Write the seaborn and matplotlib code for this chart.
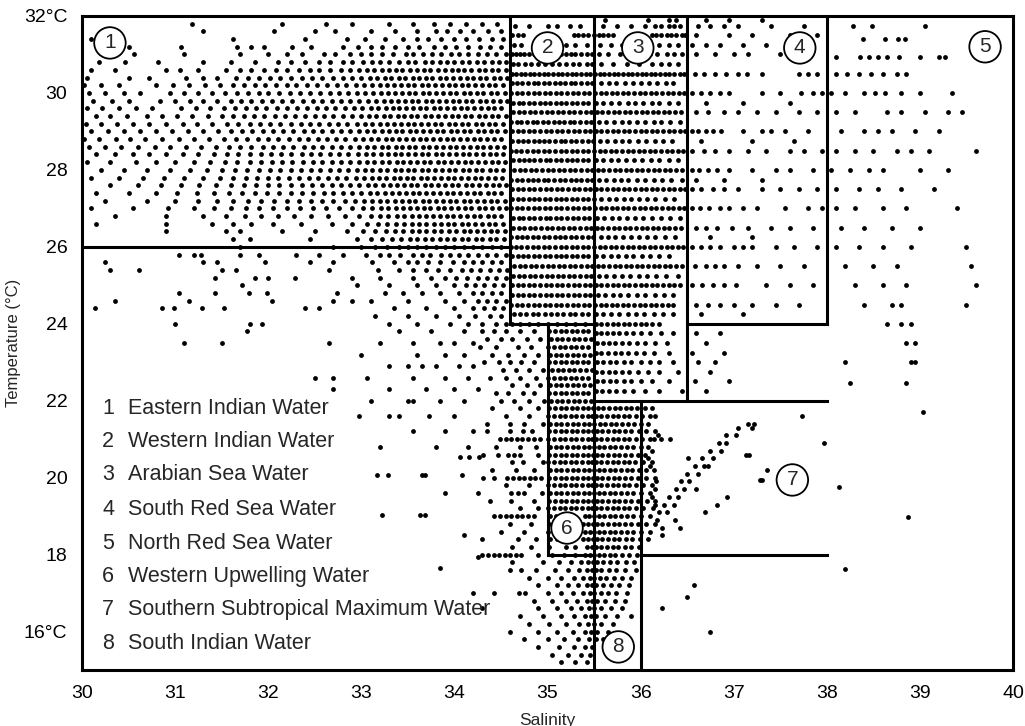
"""
Indian Ocean T-S diagram with water mass boxes
"""

import pandas as pd
import matplotlib
matplotlib.use("Agg")
import matplotlib.pyplot as plt
import seaborn as sns

sns.set_style("white")
plt.rcParams['font.family'] = ['Liberation Sans', 'DejaVu Sans']

# ========== data: rows of (temperature, salinities) ==========
# 1 Eastern Indian Water region (S < 34.6)
east_rows = [
    (31.8, "31.18 32.15 32.62 32.9 33.3 33.55 33.78 33.95 34.12 34.3 34.46"),
    (31.6, "31.3 32.06 32.5 32.72 33.1 33.36 33.6 33.8 33.92 34.06 34.2 34.36 34.5"),
    (31.4, "30.1 31.62 32.4 32.85 33.04 33.25 33.45 33.6 33.72 33.86 34.0 34.12 34.26 34.4 34.52"),
    (31.2, "30.5 31.06 31.66 31.82 31.96 32.26 32.46 32.8 32.96 33.1 33.22 33.36 33.5 33.62 33.78 33.9 34.02 34.15 34.28 34.38 34.5"),
    (31.0, "30.3 30.56 31.1 31.7 32.0 32.2 32.36 32.6 32.72 32.88 33.0 33.1 33.22 33.34 33.48 33.55 33.66 33.76 33.86 33.96 34.05 34.15 34.25 34.35 34.45 34.55"),
    (30.8, "30.18 30.46 30.82 31.3 31.6 31.86 32.1 32.25 32.4 32.55 32.66 32.8 32.9 33.02 33.12 33.2 33.3 33.4 33.5 33.58 33.68 33.76 33.84 33.92 34.0 34.08 34.16 34.24 34.32 34.4 34.48 34.55"),
    (30.6, "30.1 30.35 30.9 31.05 31.25 31.55 31.7 31.82 31.95 32.08 32.2 32.33 32.45 32.55 32.66 32.78 32.88 32.97 33.06 33.14 33.22 33.3 33.37 33.44 33.52 33.6 33.67 33.74 33.82 33.9 33.97 34.04 34.1 34.18 34.26 34.33 34.4 34.47 34.55"),
    (30.4, "30.05 30.5 30.72 31.12 31.3 31.45 31.65 31.78 31.9 32.02 32.13 32.24 32.36 32.47 32.58 32.7 32.8 32.9 33.0 33.09 33.17 33.25 33.32 33.4 33.47 33.55 33.62 33.69 33.76 33.84 33.91 33.98 34.06 34.13 34.2 34.27 34.34 34.42 34.49 34.56"),
    (30.2, "30.02 30.2 30.4 30.8 30.98 31.15 31.32 31.48 31.62 31.74 31.86 31.97 32.08 32.2 32.3 32.42 32.52 32.63 32.74 32.84 32.94 33.03 33.12 33.2 33.28 33.35 33.43 33.5 33.57 33.65 33.72 33.79 33.87 33.94 34.01 34.08 34.15 34.22 34.3 34.37 34.44 34.52"),
    (30.0, "30.08 30.25 30.45 30.62 30.95 31.1 31.25 31.4 31.54 31.67 31.78 31.9 32.0 32.12 32.23 32.34 32.45 32.56 32.66 32.76 32.86 32.95 33.04 33.13 33.21 33.29 33.36 33.44 33.51 33.58 33.66 33.73 33.8 33.88 33.95 34.02 34.1 34.17 34.24 34.31 34.39 34.46 34.54"),
    (29.8, "30.12 30.32 30.5 30.84 31.0 31.16 31.3 31.45 31.6 31.71 31.82 31.93 32.04 32.15 32.26 32.37 32.48 32.58 32.68 32.78 32.88 32.98 33.07 33.16 33.24 33.32 33.39 33.47 33.54 33.61 33.69 33.76 33.83 33.91 33.98 34.05 34.12 34.19 34.27 34.34 34.41 34.49 34.56"),
    (29.6, "30.05 30.22 30.4 30.58 30.75 31.06 31.22 31.38 31.52 31.64 31.76 31.87 31.98 32.09 32.2 32.31 32.42 32.52 32.62 32.72 32.82 32.92 33.01 33.1 33.18 33.26 33.34 33.41 33.48 33.56 33.63 33.7 33.78 33.85 33.92 34.0 34.07 34.14 34.21 34.29 34.36 34.43 34.5"),
    (29.4, "30.15 30.3 30.48 30.7 30.86 31.02 31.18 31.35 31.5 31.62 31.74 31.85 31.96 32.07 32.18 32.29 32.4 32.5 32.6 32.7 32.8 32.9 33.0 33.08 33.16 33.24 33.31 33.39 33.46 33.53 33.6 33.68 33.75 33.82 33.9 33.97 34.04 34.11 34.18 34.26 34.33 34.4 34.47 34.55"),
    (29.2, "30.04 30.2 30.38 30.55 30.72 30.9 31.08 31.24 31.4 31.56 31.68 31.8 31.91 32.02 32.13 32.24 32.35 32.45 32.55 32.65 32.75 32.85 32.95 33.04 33.12 33.2 33.28 33.35 33.43 33.5 33.57 33.64 33.72 33.79 33.86 33.94 34.01 34.08 34.15 34.23 34.3 34.37 34.44 34.52"),
    (29.0, "30.1 30.28 30.45 30.62 30.8 30.97 31.14 31.3 31.46 31.6 31.72 31.83 31.94 32.05 32.16 32.27 32.38 32.48 32.58 32.68 32.78 32.88 32.97 33.06 33.14 33.22 33.3 33.37 33.44 33.52 33.59 33.66 33.74 33.81 33.88 33.96 34.03 34.1 34.17 34.25 34.32 34.39 34.46 34.54"),
    (28.8, "30.02 30.18 30.36 30.52 30.68 30.86 31.04 31.2 31.36 31.52 31.65 31.77 31.89 32.0 32.11 32.22 32.33 32.43 32.53 32.63 32.73 32.83 32.93 33.02 33.1 33.18 33.26 33.33 33.41 33.48 33.55 33.63 33.7 33.77 33.85 33.92 33.99 34.06 34.14 34.21 34.28 34.35 34.43 34.5"),
    (28.6, "30.08 30.25 30.42 30.6 30.78 30.95 31.12 31.28 31.44 31.58 31.7 31.82 31.94 32.05 32.16 32.27 32.38 32.48 32.58 32.68 32.78 32.88 32.98 33.06 33.14 33.22 33.29 33.37 33.44 33.51 33.58 33.66 33.73 33.8 33.88 33.95 34.02 34.09 34.17 34.24 34.31 34.38 34.46 34.53"),
    (28.4, "30.15 30.35 30.55 30.72 30.9 31.08 31.25 31.42 31.56 31.68 31.8 31.92 32.03 32.14 32.25 32.36 32.46 32.56 32.66 32.76 32.86 32.96 33.05 33.13 33.21 33.29 33.36 33.43 33.5 33.58 33.65 33.72 33.8 33.87 33.94 34.02 34.09 34.16 34.23 34.31 34.38 34.45 34.52"),
    (28.2, "30.05 30.3 30.58 30.8 31.0 31.2 31.38 31.54 31.67 31.8 31.92 32.04 32.15 32.26 32.37 32.48 32.58 32.68 32.78 32.88 32.97 33.06 33.14 33.22 33.3 33.38 33.45 33.52 33.6 33.67 33.74 33.82 33.89 33.96 34.04 34.11 34.18 34.25 34.33 34.4 34.47 34.54"),
    (28.0, "30.2 30.45 30.7 30.95 31.16 31.34 31.5 31.64 31.77 31.9 32.02 32.13 32.24 32.35 32.46 32.56 32.66 32.76 32.86 32.95 33.04 33.12 33.2 33.28 33.36 33.43 33.5 33.57 33.65 33.72 33.79 33.87 33.94 34.01 34.09 34.16 34.23 34.3 34.38 34.45 34.52"),
    (27.8, "30.1 30.4 30.65 30.88 31.1 31.3 31.48 31.62 31.76 31.88 32.0 32.11 32.22 32.33 32.44 32.54 32.64 32.74 32.84 32.94 33.03 33.11 33.19 33.27 33.35 33.42 33.49 33.56 33.64 33.71 33.78 33.86 33.93 34.0 34.07 34.15 34.22 34.29 34.36 34.44 34.51"),
    (27.6, "30.3 30.6 30.85 31.06 31.26 31.44 31.6 31.74 31.87 32.0 32.12 32.24 32.36 32.47 32.58 32.68 32.78 32.88 32.98 33.07 33.15 33.23 33.31 33.38 33.46 33.53 33.6 33.68 33.75 33.82 33.9 33.97 34.04 34.12 34.19 34.26 34.34 34.41 34.48 34.55"),
    (27.4, "30.15 30.5 30.8 31.02 31.24 31.42 31.58 31.72 31.86 31.99 32.12 32.24 32.36 32.48 32.6 32.7 32.8 32.9 33.0 33.09 33.17 33.25 33.33 33.4 33.48 33.55 33.62 33.7 33.77 33.84 33.92 33.99 34.06 34.14 34.21 34.28 34.36 34.43 34.5"),
    (27.2, "30.25 30.7 31.0 31.25 31.45 31.62 31.78 31.92 32.06 32.2 32.33 32.46 32.58 32.7 32.82 32.93 33.03 33.12 33.2 33.28 33.36 33.44 33.51 33.58 33.66 33.73 33.8 33.88 33.95 34.02 34.1 34.17 34.24 34.32 34.39 34.46 34.54"),
    (27.0, "30.1 30.55 30.92 31.2 31.42 31.6 31.76 31.9 32.05 32.2 32.34 32.48 32.62 32.76 32.9 33.02 33.12 33.21 33.29 33.37 33.45 33.52 33.6 33.67 33.74 33.82 33.89 33.96 34.04 34.11 34.18 34.26 34.33 34.4 34.48 34.55"),
    (26.8, "30.35 30.9 31.3 31.55 31.75 31.92 32.1 32.28 32.46 32.64 32.82 32.97 33.1 33.2 33.29 33.38 33.46 33.54 33.62 33.69 33.77 33.84 33.92 33.99 34.06 34.14 34.21 34.28 34.36 34.43 34.5"),
    (26.6, "30.15 30.9 31.4 31.62 31.82 32.05 32.35 32.68 32.9 33.06 33.18 33.28 33.37 33.46 33.54 33.62 33.7 33.78 33.86 33.93 34.0 34.08 34.15 34.22 34.3 34.37 34.44 34.52"),
    (26.4, "30.9 31.55 31.7 32.15 32.5 32.85 33.02 33.15 33.26 33.36 33.45 33.54 33.62 33.7 33.78 33.86 33.94 34.02 34.1 34.17 34.24 34.32 34.39 34.46 34.54"),
    (26.2, "31.62 31.8 32.45 32.95 33.1 33.22 33.33 33.43 33.52 33.6 33.68 33.76 33.84 33.92 34.0 34.08 34.15 34.23 34.3 34.38 34.45 34.53"),
    (26.0, "31.7 32.7 33.0 33.15 33.28 33.4 33.5 33.6 33.7 33.8 33.9 34.0 34.1 34.2 34.3 34.4 34.5"),
]

# scatter below 26 degrees, left of the central column
tail_rows = [
    (25.8, "31.04 31.2 31.28 31.7 31.9 32.3 32.55 32.8 33.05 33.2 33.3 33.42 33.55 33.65 33.74 33.86 33.95 34.05 34.15 34.25 34.35 34.45 34.55"),
    (25.6, "30.25 31.3 31.45 31.97 32.45 32.7 33.12 33.35 33.5 33.6 33.72 33.85 33.98 34.1 34.2 34.3 34.4 34.5"),
    (25.4, "30.3 30.61 31.5 31.65 32.65 33.18 33.4 33.55 33.7 33.82 33.95 34.08 34.18 34.28 34.38 34.48 34.56"),
    (25.2, "31.43 31.86 32.0 32.29 32.9 33.2 33.55 33.75 33.9 34.02 34.14 34.25 34.35 34.45 34.55"),
    (25.0, "31.72 32.95 33.3 33.6 33.8 34.0 34.12 34.22 34.32 34.42 34.52"),
    (24.8, "31.04 31.43 31.79 31.99 32.74 33.25 33.45 33.65 33.85 34.05 34.2 34.3 34.4 34.5"),
    (24.6, "30.35 31.15 32.04 32.7 32.9 33.1 33.5 33.9 34.1 34.25 34.35 34.45 34.55"),
    (24.4, "30.14 30.86 30.99 31.29 31.53 32.39 32.55 33.35 33.7 34.0 34.2 34.32 34.42 34.52"),
    (24.2, "33.15 33.5 33.8 34.05 34.22 34.38 34.5"),
    (24.0, "31.0 31.8 31.93 33.3 33.6 33.95 34.15 34.3 34.45 34.55"),
    (23.8, "31.77 33.4 33.75 34.1"),
    (23.5, "31.1 31.5 32.65 33.2 33.55 33.85 34.0 34.2"),
    (23.2, "33.0 33.6 33.9 34.1"),
    (22.9, "33.3 33.5 33.65 33.8 34.05 34.2"),
    (22.6, "32.5 32.7 33.06 33.55 33.9 34.15"),
    (22.3, "32.7 33.3 33.7 34.0 34.25"),
    (22.0, "33.1 33.5 33.55 33.85 34.1"),
    (21.6, "32.98 33.3 33.4 33.73 34.0"),
    (21.2, "33.55 33.9 34.2"),
    (20.8, "33.2 33.8 34.15"),
    (20.54, "34.06 34.16 34.26"),
    (20.07, "33.17 33.29 33.65 33.68 34.08"),
    (19.6, "33.9 34.25"),
    (19.03, "33.22 33.63 33.68"),
    (18.5, "34.1"),
    (17.95, "34.25"),
    (17.65, "33.85"),
    (17.0, "34.2"),
    (16.6, "34.3"),
]

# 2 Western Indian Water + 3 Arabian Sea Water (34.6-36.5)
west_rows = [
    (31.9, "35.62 36.08 36.3 36.38"),
    (31.75, "34.65 34.8 35.0 35.1 35.24 35.35 35.6 35.75 35.9 36.05 36.15 36.22 36.3 36.36 36.42"),
    (31.5, "34.62 34.68 34.74 35.28 35.33 35.38 35.44 35.5 35.55 35.6 35.65 35.7 36.12 36.17 36.22 36.28 36.33 36.38 36.44 36.48"),
    (31.25, "34.64 34.72 34.85 34.95 35.08 35.2 35.3 35.42 35.56 35.68 35.8 35.95 36.08 36.2 36.3 36.4"),
    (31.0, "34.62 34.66 34.7 34.75 34.8 34.85 34.9 34.95 35.0 35.05 35.1 35.15 35.2 35.25 35.3 35.36 35.42 35.48 35.55 35.65 35.78 35.9 36.0 36.1 36.18 36.28 36.36 36.45"),
    (30.75, "34.63 34.68 34.76 34.82 34.9 34.97 35.05 35.12 35.2 35.27 35.34 35.42 35.48 35.58 35.7 35.85 35.98 36.12 36.22 36.3 36.4"),
    (30.5, "34.62 34.66 34.71 34.76 34.81 34.86 34.91 34.96 35.01 35.06 35.11 35.16 35.21 35.26 35.31 35.36 35.41 35.46 35.51 35.56 35.61 35.66 35.71 35.76 35.81 35.86 35.91 35.96 36.01 36.06 36.11 36.16 36.21 36.26 36.31 36.36 36.42 36.47"),
    (30.25, "34.62 34.67 34.73 34.79 34.85 34.9 34.96 35.02 35.08 35.13 35.19 35.25 35.3 35.36 35.42 35.48 35.57 35.66 35.74 35.83 35.92 36.0 36.09 36.18 36.27 36.35"),
    (30.0, "34.61 34.67 34.73 34.79 34.85 34.91 34.97 35.03 35.09 35.15 35.21 35.27 35.33 35.39 35.45 35.51 35.57 35.63 35.69 35.75 35.81 35.87 35.93 35.99 36.05 36.11 36.17 36.23 36.29 36.35 36.41 36.47"),
    (29.75, "34.63 34.69 34.74 34.8 34.86 34.92 34.97 35.03 35.09 35.15 35.2 35.26 35.32 35.38 35.44 35.52 35.6 35.68 35.77 35.86 35.94 36.03 36.12 36.2 36.3 36.4"),
    (29.5, "34.63 34.69 34.75 34.81 34.87 34.93 34.99 35.05 35.11 35.17 35.23 35.29 35.35 35.41 35.47 35.53 35.59 35.65 35.71 35.77 35.83 35.89 35.95 36.01 36.07 36.13 36.19 36.25 36.31 36.37 36.43"),
    (29.25, "34.61 34.67 34.72 34.78 34.84 34.89 34.95 35.01 35.07 35.12 35.18 35.24 35.29 35.35 35.41 35.47 35.55 35.63 35.71 35.8 35.88 35.96 36.05 36.14 36.22 36.32 36.42"),
    (29.0, "34.62 34.68 34.74 34.8 34.86 34.92 34.98 35.04 35.1 35.16 35.22 35.28 35.34 35.4 35.46 35.52 35.58 35.64 35.7 35.76 35.82 35.88 35.94 36.0 36.06 36.12 36.18 36.24 36.3 36.36 36.42 36.48"),
    (28.75, "34.62 34.68 34.74 34.79 34.85 34.91 34.96 35.02 35.08 35.14 35.19 35.25 35.31 35.37 35.43 35.49 35.56 35.64 35.72 35.8 35.88 35.97 36.06 36.15 36.24 36.34"),
    (28.5, "34.61 34.66 34.72 34.78 34.84 34.9 34.96 35.02 35.08 35.14 35.2 35.26 35.32 35.38 35.44 35.5 35.56 35.62 35.68 35.74 35.8 35.86 35.92 35.98 36.04 36.1 36.16 36.22 36.28 36.34 36.4 36.46"),
    (28.25, "34.63 34.69 34.75 34.8 34.86 34.92 34.98 35.03 35.09 35.15 35.21 35.26 35.32 35.38 35.44 35.52 35.6 35.68 35.76 35.84 35.93 36.02 36.11 36.2 36.3 36.4"),
    (28.0, "34.64 34.7 34.76 34.82 34.88 34.94 35.0 35.06 35.12 35.18 35.24 35.3 35.36 35.42 35.48 35.54 35.6 35.66 35.72 35.78 35.84 35.9 35.96 36.02 36.08 36.14 36.2 36.26 36.32 36.38 36.44"),
    (27.75, "34.61 34.67 34.73 34.79 34.84 34.9 34.96 35.01 35.07 35.13 35.19 35.25 35.31 35.36 35.42 35.48 35.55 35.63 35.71 35.79 35.87 35.96 36.05 36.14 36.23 36.33 36.44"),
    (27.5, "34.62 34.68 34.74 34.8 34.86 34.92 34.98 35.04 35.1 35.16 35.22 35.28 35.34 35.4 35.46 35.52 35.58 35.64 35.7 35.76 35.82 35.88 35.94 36.0 36.06 36.12 36.18 36.24 36.3 36.36 36.42 36.48"),
    (27.25, "34.62 34.68 34.74 34.8 34.86 34.91 34.97 35.03 35.09 35.14 35.2 35.26 35.32 35.38 35.44 35.5 35.58 35.66 35.74 35.82 35.9 35.98 36.07 36.16 36.26 36.36"),
    (27.0, "34.61 34.67 34.73 34.79 34.85 34.91 34.97 35.03 35.09 35.15 35.21 35.27 35.33 35.39 35.45 35.51 35.57 35.63 35.69 35.75 35.81 35.87 35.93 35.99 36.05 36.11 36.17 36.23 36.29 36.35 36.41 36.47"),
    (26.75, "34.63 34.69 34.74 34.8 34.86 34.92 34.98 35.03 35.09 35.15 35.21 35.27 35.33 35.39 35.45 35.53 35.61 35.69 35.77 35.85 35.94 36.03 36.12 36.22 36.32 36.42"),
    (26.5, "34.63 34.69 34.75 34.81 34.87 34.93 34.99 35.05 35.11 35.17 35.23 35.29 35.35 35.41 35.47 35.53 35.59 35.65 35.71 35.77 35.83 35.89 35.95 36.01 36.07 36.13 36.19 36.25 36.31 36.37 36.43"),
    (26.25, "34.61 34.67 34.73 34.78 34.84 34.9 34.96 35.02 35.08 35.13 35.19 35.25 35.31 35.37 35.43 35.49 35.57 35.65 35.73 35.81 35.9 35.98 36.07 36.16 36.26 36.37"),
    (26.0, "34.61 34.66 34.72 34.78 34.84 34.9 34.96 35.02 35.08 35.14 35.2 35.26 35.32 35.38 35.44 35.5 35.56 35.62 35.68 35.74 35.8 35.86 35.92 35.98 36.04 36.1 36.16 36.22 36.28 36.34 36.4 36.46"),
    (25.75, "34.62 34.68 34.74 34.79 34.85 34.91 34.97 35.03 35.09 35.15 35.2 35.26 35.32 35.38 35.44 35.52 35.6 35.68 35.76 35.84 35.92 36.01 36.1 36.2 36.3"),
    (25.5, "34.64 34.7 34.76 34.82 34.88 34.94 35.0 35.06 35.12 35.18 35.24 35.3 35.36 35.42 35.48 35.54 35.6 35.66 35.72 35.78 35.84 35.9 35.96 36.02 36.08 36.14 36.2 36.26 36.32 36.38 36.44"),
    (25.25, "34.63 34.69 34.75 34.81 34.87 34.93 34.99 35.05 35.11 35.17 35.23 35.29 35.35 35.41 35.47 35.55 35.63 35.71 35.8 35.89 35.98 36.07 36.17 36.27 36.4"),
    (25.0, "34.62 34.68 34.74 34.8 34.86 34.92 34.98 35.04 35.1 35.16 35.22 35.28 35.34 35.4 35.46 35.52 35.58 35.64 35.7 35.76 35.82 35.88 35.94 36.0 36.06 36.12 36.18 36.24 36.3 36.36 36.42"),
    (24.75, "34.62 34.68 34.74 34.8 34.86 34.92 34.98 35.04 35.1 35.16 35.22 35.28 35.34 35.4 35.46 35.54 35.62 35.7 35.78 35.87 35.96 36.05 36.15 36.25 36.35"),
    (24.5, "34.61 34.67 34.73 34.79 34.85 34.91 34.97 35.03 35.09 35.15 35.21 35.27 35.33 35.39 35.45 35.51 35.57 35.63 35.69 35.75 35.81 35.87 35.93 35.99 36.05 36.11 36.17 36.23 36.29 36.35"),
    (24.25, "34.64 34.7 34.77 34.84 34.9 34.97 35.04 35.1 35.17 35.24 35.3 35.37 35.44 35.52 35.6 35.68 35.77 35.86 35.95 36.04 36.14 36.24 36.35"),
    (24.0, "34.62 34.7 34.8 34.9 35.0 35.1 35.2 35.3 35.4 35.52 35.58 35.64 35.7 35.76 35.82 35.88 35.94 36.0 36.06 36.12 36.2"),
    # below box 2, right of the 35.5 line
    (23.75, "35.52 35.58 35.64 35.7 35.77 35.84 35.92 36.0 36.1 36.22 36.35 36.6 36.85"),
    (23.5, "35.53 35.6 35.66 35.73 35.8 35.88 35.96 36.05 36.15 36.28 36.7"),
    (23.25, "35.52 35.58 35.65 35.72 35.79 35.87 35.95 36.04 36.14 36.3 36.55 36.9"),
    (23.0, "35.53 35.6 35.67 35.74 35.82 35.9 36.0 36.1 36.2 36.35 36.62 36.8"),
    (22.75, "35.52 35.59 35.66 35.73 35.8 35.88 35.97 36.08 36.2 36.4 36.75"),
    (22.5, "35.53 35.6 35.67 35.74 35.82 35.9 36.0 36.12 36.3 36.58 36.95"),
    (22.25, "35.52 35.59 35.66 35.74 35.82 35.92 36.05 36.2 36.45 36.7"),
]

# 6 Western Upwelling + 8 South Indian Water column
column_rows = [
    (23.8, "34.3 34.42 34.55 34.7 34.85 35.02 35.08 35.14 35.2 35.26 35.32 35.38 35.44"),
    (23.6, "34.35 34.5 34.62 34.78 34.92 35.04 35.1 35.16 35.22 35.28 35.34 35.4 35.47"),
    (23.4, "34.28 34.45 34.68 34.82 35.01 35.07 35.13 35.19 35.25 35.31 35.37 35.43"),
    (23.2, "34.4 34.58 34.75 34.9 35.03 35.09 35.15 35.21 35.27 35.33 35.39 35.46"),
    (23.0, "34.32 34.48 34.6 34.72 34.86 35.02 35.08 35.14 35.2 35.26 35.32 35.38 35.44"),
    (22.8, "34.52 34.66 34.8 34.95 35.05 35.11 35.17 35.23 35.29 35.35 35.41 35.48"),
    (22.6, "34.38 34.55 34.7 34.88 35.01 35.07 35.13 35.19 35.25 35.31 35.37 35.43"),
    (22.4, "34.62 34.78 34.92 35.03 35.09 35.15 35.21 35.27 35.33 35.39 35.46"),
    (22.2, "34.45 34.58 34.74 34.86 35.02 35.08 35.14 35.2 35.26 35.32 35.38 35.44"),
    (22.0, "34.5 34.64 34.8 34.96 35.04 35.1 35.16 35.22 35.28 35.34 35.4 35.47"),
    (21.8, "34.4 34.7 34.9 35.02 35.08 35.14 35.2 35.26 35.32 35.38 35.44 35.49 35.54 35.6 35.66 35.72 35.78 35.84 35.9 35.96 36.05 36.12"),
    (21.6, "34.55 34.8 35.01 35.07 35.13 35.19 35.25 35.31 35.37 35.43 35.48 35.52 35.58 35.64 35.7 35.76 35.82 35.88 35.95 36.02 36.1"),
    (21.4, "34.35 34.6 34.75 34.95 35.03 35.09 35.15 35.21 35.27 35.33 35.39 35.45 35.5 35.56 35.62 35.68 35.74 35.8 35.86 35.93 36.0 36.08"),
    (21.2, "34.35 34.6 34.74 34.83 35.02 35.08 35.14 35.2 35.26 35.32 35.38 35.44 35.49 35.53 35.59 35.65 35.71 35.77 35.83 35.9 35.98 36.06 36.15"),
    (21.0, "34.49 34.55 34.61 34.67 34.73 34.79 34.85 34.92 35.01 35.07 35.13 35.19 35.25 35.31 35.37 35.43 35.48 35.52 35.58 35.64 35.7 35.76 35.82 35.88 35.95 36.02 36.1"),
    (20.8, "34.45 34.7 34.88 35.03 35.09 35.15 35.21 35.27 35.33 35.39 35.45 35.5 35.55 35.61 35.67 35.73 35.79 35.85 35.92 36.0 36.08"),
    (20.6, "34.31 34.47 34.58 34.64 34.7 34.9 35.02 35.08 35.14 35.2 35.26 35.32 35.38 35.44 35.49 35.53 35.59 35.65 35.71 35.77 35.83 35.9 35.97 36.05"),
    (20.4, "34.62 34.74 34.95 35.01 35.07 35.13 35.19 35.25 35.31 35.37 35.43 35.48 35.52 35.58 35.64 35.7 35.76 35.82 35.88 35.94 36.03 36.12"),
    (20.2, "34.4 34.66 34.85 35.03 35.09 35.15 35.21 35.27 35.33 35.39 35.45 35.5 35.55 35.61 35.67 35.73 35.79 35.85 35.91 35.98 36.06"),
    (20.0, "34.31 34.42 34.57 34.63 34.69 34.75 34.81 34.87 34.93 35.02 35.08 35.14 35.2 35.26 35.32 35.38 35.44 35.49 35.53 35.59 35.65 35.71 35.77 35.83 35.9 35.97 36.06 36.16"),
    (19.8, "34.55 34.8 35.01 35.07 35.13 35.19 35.25 35.31 35.37 35.43 35.48 35.52 35.58 35.64 35.7 35.76 35.82 35.88 35.95 36.03 36.12"),
    (19.6, "34.61 34.68 34.75 34.94 35.03 35.09 35.15 35.21 35.27 35.33 35.39 35.45 35.5 35.55 35.61 35.67 35.73 35.79 35.85 35.92 36.0 36.1"),
    (19.4, "34.38 34.61 34.85 35.02 35.08 35.14 35.2 35.26 35.32 35.38 35.44 35.49 35.53 35.59 35.65 35.71 35.77 35.83 35.9 35.97 36.07 36.16"),
    (19.2, "34.7 34.9 35.01 35.07 35.13 35.19 35.25 35.31 35.37 35.43 35.48 35.52 35.58 35.64 35.7 35.76 35.82 35.88 35.95 36.03 36.13"),
    (19.0, "34.43 34.49 34.55 34.61 34.67 34.73 34.79 34.85 35.03 35.09 35.15 35.4 35.45 35.5 35.55 35.61 35.67 35.73 35.79 35.85 35.92 36.0 36.1"),
    (18.8, "34.6 34.82 35.02 35.08 35.14 35.38 35.44 35.49 35.53 35.59 35.65 35.71 35.77 35.83 35.9 35.97 36.06 36.15"),
    (18.6, "34.5 34.75 35.01 35.07 35.4 35.46 35.5 35.55 35.61 35.67 35.73 35.79 35.85 35.92 36.0 36.1"),
    (18.4, "34.3 34.68 34.88 35.03 35.1 35.38 35.44 35.49 35.53 35.59 35.65 35.71 35.77 35.84 35.91 35.99 36.08"),
    (18.2, "34.62 34.82 35.02 35.2 35.3 35.42 35.48 35.52 35.58 35.64 35.7 35.76 35.83 35.9 35.98"),
    (18.0, "34.3 34.36 34.42 34.48 34.54 34.6 34.66 34.72 34.9 35.05 35.18 35.3 35.4 35.46 35.5 35.55 35.61 35.67 35.73 35.8 35.88 35.96"),
    (17.8, "34.62 34.95 35.12 35.25 35.36 35.44 35.49 35.53 35.6 35.67 35.75 35.84 35.93"),
    (17.6, "34.6 34.72 34.88 35.08 35.22 35.34 35.42 35.48 35.52 35.58 35.66 35.74 35.83 35.95"),
    (17.4, "34.8 35.0 35.15 35.28 35.38 35.46 35.5 35.56 35.63 35.71 35.8 35.9"),
    (17.2, "34.9 35.1 35.22 35.33 35.42 35.48 35.52 35.6 35.68 35.77 35.88"),
    (17.0, "34.43 34.69 34.76 35.0 35.14 35.27 35.38 35.46 35.5 35.57 35.65 35.74 35.85"),
    (16.8, "34.85 35.05 35.2 35.32 35.42 35.48 35.53 35.62 35.72 35.83"),
    (16.6, "34.9 35.1 35.25 35.36 35.45 35.5 35.58 35.68 35.8"),
    (16.4, "34.7 34.95 35.15 35.28 35.4 35.47 35.52 35.62 35.75 35.9"),
    (16.2, "34.8 35.02 35.2 35.34 35.44 35.5 35.58 35.7"),
    (16.0, "34.6 34.9 35.1 35.27 35.4 35.47 35.53 35.65"),
    (15.8, "34.75 35.0 35.18 35.33 35.45 35.52 35.6"),
    (15.6, "34.9 35.12 35.28 35.4 35.48"),
    (15.4, "35.05 35.22 35.36 35.46"),
    (15.2, "35.15 35.3 35.42"),
]

# 7 Southern Subtropical Maximum Water branch and stray points
ssmw_rows = [
    (21.6, "36.15 37.73"),
    (21.4, "37.15 37.22"),
    (21.3, "37.05 37.2"),
    (21.1, "36.19 36.92 37.02"),
    (21.0, "36.14 36.22 36.32"),
    (20.9, "36.84 36.92 37.97"),
    (20.7, "36.12 36.75 36.86"),
    (20.6, "37.13 37.16"),
    (20.5, "36.08 36.51 36.66 36.78"),
    (20.3, "36.1 36.58 36.68 36.72"),
    (20.2, "36.14 37.36"),
    (20.1, "36.5 36.62"),
    (19.95, "37.28 37.3"),
    (19.9, "36.17 36.43 36.52"),
    (19.76, "38.13"),
    (19.7, "36.15 36.38 36.47 36.6"),
    (19.5, "36.12 36.3 36.4 36.93"),
    (19.3, "36.16 36.25 36.36 36.82"),
    (19.1, "36.2 36.28 36.69"),
    (18.98, "38.87"),
    (18.9, "36.18 36.37"),
    (18.7, "36.23 36.42"),
    (18.5, "36.23"),
    (17.63, "38.2"),
    (17.2, "36.57"),
    (16.9, "36.5"),
    (16.6, "36.23"),
    (16.0, "36.75"),
]

# 4 South Red Sea Water (36.5-38)
red_sea_rows = [
    (31.9, "36.7 36.95 37.3"),
    (31.75, "36.62 36.75 36.9 37.05 37.4 37.75"),
    (31.5, "36.6 36.95 37.2 37.6 37.9"),
    (31.25, "36.55 36.7 36.85 37.1 37.35 37.85"),
    (31.0, "36.6 36.8 37.0 37.15 37.5 37.7"),
    (30.5, "36.58 36.68 36.8 36.92 37.05 37.14 37.3 37.7 37.8 37.9"),
    (30.0, "36.55 36.65 36.75 36.85 36.95 37.3 37.5 37.72 37.85 37.95"),
    (29.75, "36.7 37.1 37.6"),
    (29.5, "36.6 36.72 36.9 37.05 37.25 37.45 37.7 37.9"),
    (29.0, "36.55 36.62 36.7 36.78 36.86 37.1 37.3 37.4 37.55 37.8"),
    (28.75, "36.65 37.2 37.65"),
    (28.5, "36.55 36.68 36.8 36.95 37.15 37.35 37.6 37.75 37.95"),
    (28.0, "36.55 36.63 36.72 36.82 36.95 37.2 37.45 37.6 37.85"),
    (27.75, "36.6 36.9 37.3"),
    (27.5, "36.55 36.65 36.78 36.9 37.05 37.3 37.5 37.7 37.9"),
    (27.0, "36.55 36.64 36.73 36.85 36.95 37.1 37.25 37.55 37.8 37.95"),
    (26.5, "36.6 36.7 36.82 36.98 37.15 37.4 37.6 37.85"),
    (26.25, "36.75 37.2"),
    (26.0, "36.55 36.65 36.75 36.85 37.0 37.1 37.2 37.45 37.65 37.9"),
    (25.5, "36.58 36.7 36.8 36.9 37.05 37.25 37.5 37.75"),
    (25.0, "36.55 36.66 36.78 36.9 37.02 37.35 37.6 37.85"),
    (24.5, "36.6 36.72 36.85 37.0 37.2 37.45 37.7"),
    (24.25, "36.65 37.1"),
]

# 5 North Red Sea Water (S > 38)
north_rows = [
    (31.75, "38.28 38.49 39.05"),
    (31.4, "38.39 38.63 38.77 38.84"),
    (30.93, "38.1 38.36 38.45 38.55 38.65 38.78 39.0 39.2 39.27"),
    (30.5, "38.1 38.22 38.35 38.48 38.6 38.75 38.85"),
    (30.0, "38.05 38.2 38.4 38.52 38.63 38.8 39.0 39.35"),
    (29.5, "38.1 38.3 38.65 38.8 39.05 39.3 39.45"),
    (29.0, "38.15 38.4 38.55 38.7 38.95 39.2"),
    (28.5, "38.1 38.3 38.5 38.75 38.9 39.1 39.6"),
    (28.0, "38.05 38.25 38.45 38.6 39.0 39.3"),
    (27.5, "38.1 38.35 38.55 38.8 39.15"),
    (27.0, "38.1 38.3 38.6 38.85 39.4"),
    (26.5, "38.15 38.4 38.7 39.0"),
    (26.0, "38.1 38.35 38.6 38.9 39.5"),
    (25.5, "38.2 38.5 38.75 39.55"),
    (25.0, "38.3 38.6 38.85 39.6"),
    (24.5, "38.4 38.7 38.8 39.5"),
    (24.0, "38.65 38.8 38.9"),
    (23.5, "38.85 38.95"),
    (23.0, "38.2 38.9 38.95"),
    (22.46, "38.25 38.85"),
    (21.7, "39.03"),
]

# water mass boundary segments (salinity, temperature end points)
seg_s0 = [30.0, 34.6, 34.6, 35.5, 35.0, 35.0, 36.5, 35.5, 36.5, 38.0, 36.0, 36.0]
seg_t0 = [26.0, 24.0, 24.0, 15.0, 18.0, 18.0, 22.0, 22.0, 24.0, 24.0, 15.0, 18.0]
seg_s1 = [34.6, 34.6, 35.5, 35.5, 35.0, 35.5, 36.5, 38.0, 38.0, 38.0, 36.0, 38.0]
seg_t1 = [26.0, 32.0, 24.0, 32.0, 24.0, 18.0, 32.0, 22.0, 24.0, 32.0, 22.0, 18.0]

# circled region numbers
mark_num = ['1', '2', '3', '4', '5', '6', '7', '8']
mark_s = [30.3, 35.0, 35.97, 37.71, 39.7, 35.21, 37.63, 35.76]
mark_t = [31.3, 31.17, 31.17, 31.17, 31.2, 18.69, 19.94, 15.6]

water_names = ['Eastern Indian Water', 'Western Indian Water', 'Arabian Sea Water',
               'South Red Sea Water', 'North Red Sea Water', 'Western Upwelling Water',
               'Southern Subtropical Maximum Water', 'South Indian Water']
name_t = [21.81, 20.93, 20.07, 19.18, 18.3, 17.42, 16.56, 15.68]

x_ticks = [30, 31, 32, 33, 34, 35, 36, 37, 38, 39, 40]
y_ticks = [16, 18, 20, 22, 24, 26, 28, 30, 32]
y_labels = ['16°C', '18', '20', '22', '24', '26', '28', '30', '32°C']


def expand(rows):
    """把 (温度, 盐度字符串) 行展开成点"""
    sal, temp = [], []
    for t, s in rows:
        for v in s.split():
            sal.append(float(v))
            temp.append(t)
    return sal, temp


all_s, all_t = [], []
for rows in [east_rows, tail_rows, west_rows, column_rows, ssmw_rows, red_sea_rows, north_rows]:
    s, t = expand(rows)
    all_s += s
    all_t += t
df = pd.DataFrame({'salinity': all_s, 'temperature': all_t})

# ========== plot ==========
fig = plt.figure(figsize=(10.25, 7.26), dpi=100)
ax = fig.add_axes([82 / 1025, 1 - 670 / 726, 931 / 1025, 654 / 726])

sns.scatterplot(data=df, x='salinity', y='temperature', ax=ax, color='black',
                s=12, marker='o', linewidth=0, legend=False, zorder=2)

for s0, t0, s1, t1 in zip(seg_s0, seg_t0, seg_s1, seg_t1):
    ax.plot([s0, s1], [t0, t1], color='black', lw=2.2, solid_capstyle='projecting', zorder=4)

for num, s, t in zip(mark_num, mark_s, mark_t):
    ax.text(s, t, num, ha='center', va='center', fontsize=15, zorder=6,
            bbox=dict(boxstyle='circle,pad=0.3', fc='white', ec='black', lw=1.3))

for i, (name, t) in enumerate(zip(water_names, name_t)):
    ax.text(30.28, t, str(i + 1), ha='center', va='center', fontsize=15.5, zorder=6)
    ax.text(30.49, t, name, ha='left', va='center', fontsize=15.5, zorder=6)

ax.set_xlim(30, 40)
ax.set_ylim(15, 32)
ax.set_xticks(x_ticks)
ax.set_xticklabels([str(v) for v in x_ticks])
ax.set_yticks(y_ticks)
ax.set_yticklabels(y_labels)
ax.tick_params(direction='out', length=7, width=1.3, labelsize=14, colors='black')
for sp in ax.spines.values():
    sp.set_linewidth(2.2)
    sp.set_color('black')

ax.set_xlabel('Salinity', fontsize=12.5, labelpad=8)
ax.set_ylabel('Temperature (°C)', fontsize=12, labelpad=2)

fig.savefig('out.png', dpi=100)
plt.close()
